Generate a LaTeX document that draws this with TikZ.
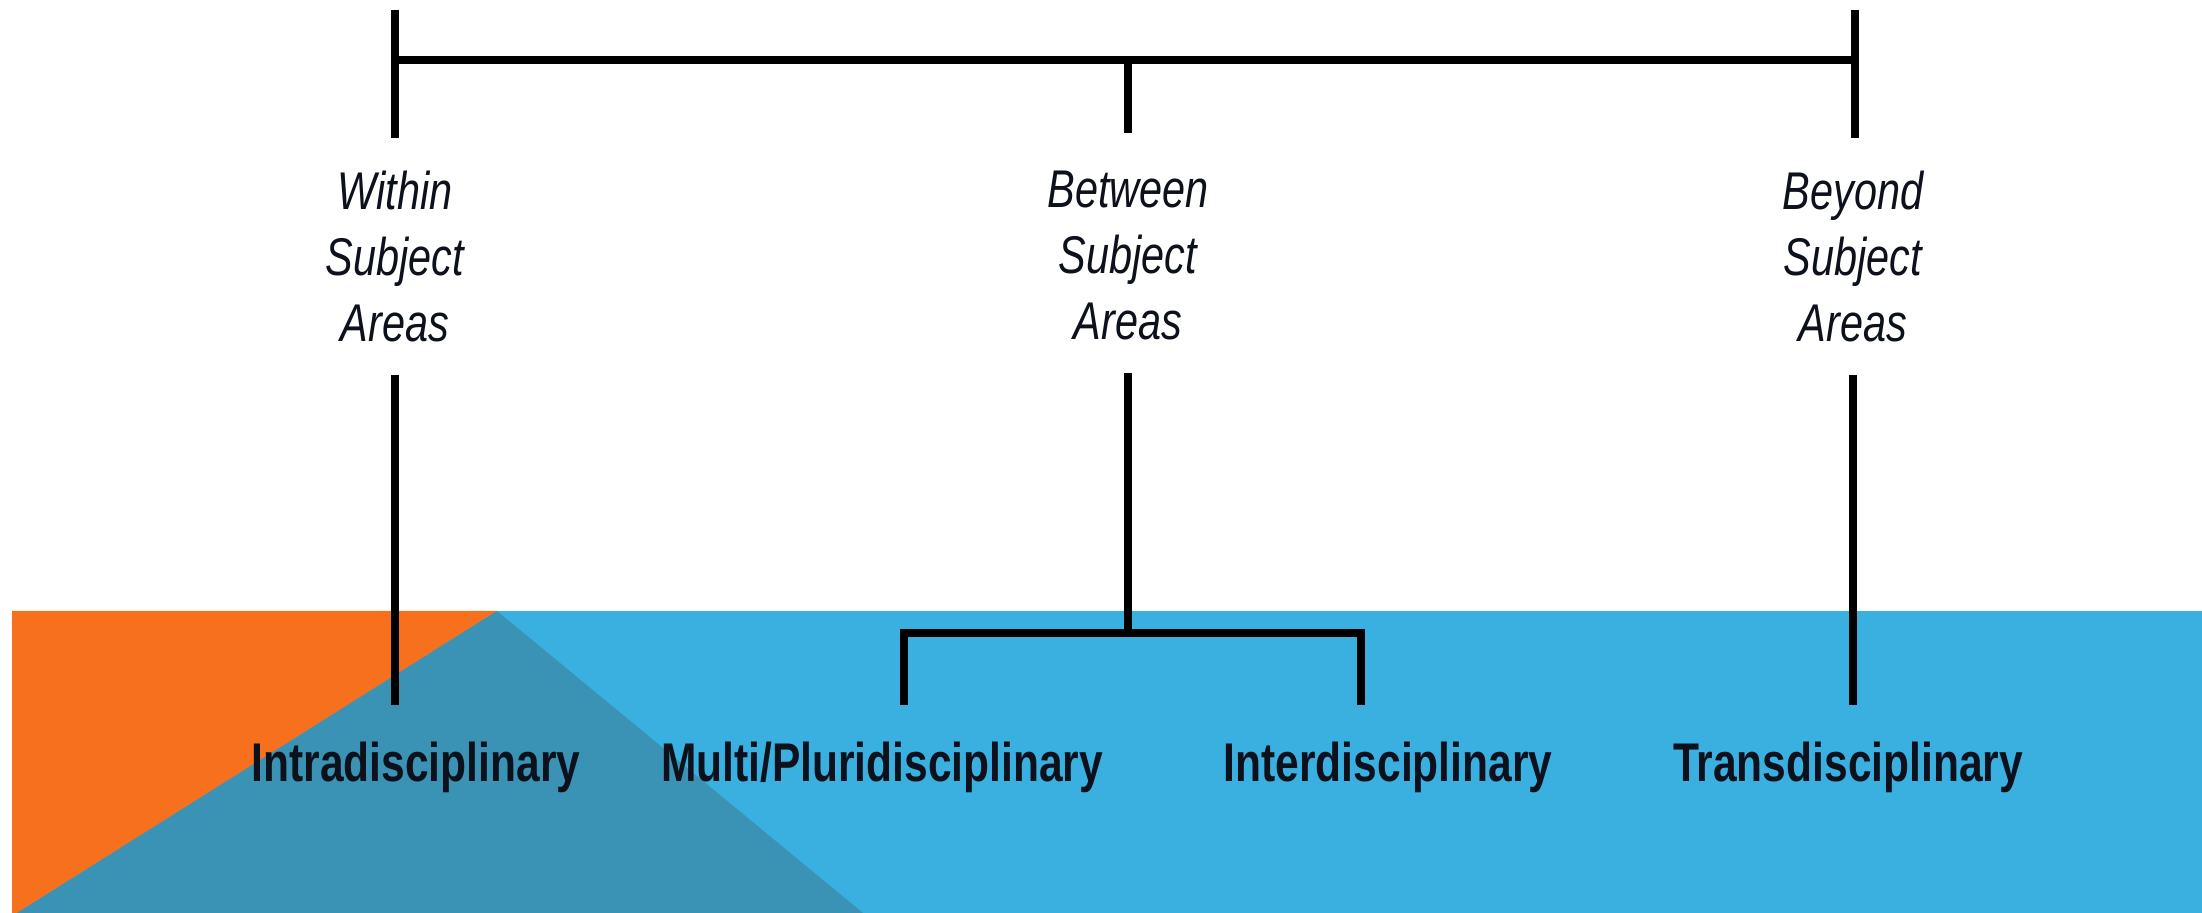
\documentclass[tikz,border=0pt]{standalone}
\usepackage{fontspec}
\setmainfont{Liberation Sans}[FakeStretch=0.78]
\usetikzlibrary{calc}
\definecolor{bandblue}{HTML}{3AB0E0}
\definecolor{facetorange}{HTML}{F6701E}
\definecolor{facetteal}{HTML}{3A93B4}
\definecolor{inkdark}{HTML}{0C111C}
\begin{document}
\begin{tikzpicture}[x=0.01cm,y=-0.01cm,
  area/.style={font=\fontsize{15.1}{18.8}\selectfont\itshape, align=center,
    inner sep=0pt, anchor=north, text=inkdark},
  field/.style={font=\fontsize{15.5}{18}\selectfont\bfseries, inner sep=0pt,
    anchor=base, text=inkdark},
  tie/.style={line width=2.4pt, draw=black},
  stem/.style={line width=2.2pt, draw=black}]
\useasboundingbox (0,0) rectangle (2202,913);

% coloured band with the two facets at its left end
\fill[bandblue] (12,611) rectangle (2202,913);
\fill[facetorange] (12,611) -- (497,611) -- (17,913) -- (12,913) -- cycle;
\fill[facetteal] (497,611) -- (863,913) -- (17,913) -- cycle;

% upper labels
\node[area] (within)  at (395,170)  {Within\\Subject\\Areas};
\node[area] (between) at (1128,170) {Between\\Subject\\Areas};
\node[area] (beyond)  at (1853,170) {Beyond\\Subject\\Areas};

% lower labels
\node[field] (intra) at (416,782)  {Intradisciplinary};
\node[field] (multi) at (882,782)  {Multi/Pluridisciplinary};
\node[field] (inter) at (1388,782) {Interdisciplinary};
\node[field] (trans) at (1848,782) {Transdisciplinary};

% top bar and its ticks
\coordinate (tickL) at (395,10);
\coordinate (tickR) at (1855,10);
\coordinate (barL) at (395,60);
\coordinate (barM) at (1128,60);
\coordinate (barR) at (1855,60);
\draw[tie] (barL) -- (barR);
\draw[tie, shorten >=0.32cm] (tickL) -- (within.north);
\draw[tie, shorten >=0.32cm] (tickR) -- (beyond.north -| tickR);
\draw[tie, shorten >=0.37cm] (barM) -- (between.north);

% stems down to the disciplines
\coordinate (brkM) at (1128,633);
\coordinate (brkL) at (904,633);
\coordinate (brkR) at (1361,633);
\draw[stem, shorten <=0.32cm, shorten >=0.37cm] (within.south) -- (within.south |- intra.north);
\draw[stem, shorten <=0.32cm] (between.south) -- (brkM);
\draw[stem, shorten <=0.37cm, shorten >=0.37cm] (brkL |- multi.north) -- (brkL) -- (brkR) -- (brkR |- inter.north);
\draw[stem, shorten <=0.32cm, shorten >=0.37cm] (beyond.south) -- (beyond.south |- trans.north);
\end{tikzpicture}
\end{document}
